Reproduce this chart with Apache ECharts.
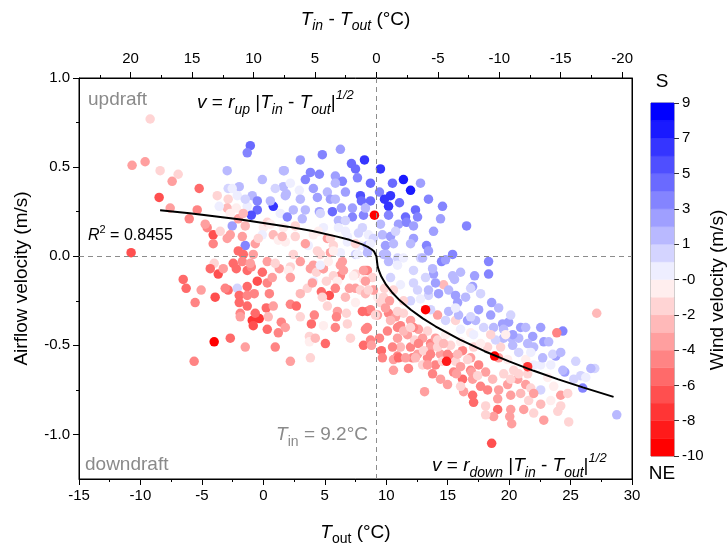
<!DOCTYPE html>
<html><head><meta charset="utf-8">
<script src="https://cdn.jsdelivr.net/npm/echarts@6/dist/echarts.min.js"></script>
<style>html,body{margin:0;padding:0;background:#fff}#c{width:728px;height:551px}</style>
</head><body><div id="c"></div><script>
// ---- data: [T_out (°C), airflow velocity (m/s), wind velocity (m/s)] ----
const upperLeftPoints = [
[-9.21,0.77,-1.7],[-10.68,0.51,-3.8],[-9.62,0.53,-3.8],[-8.4,0.48,-2.0],[-7.42,0.42,-3.8],[-6.93,0.46,-1.7],
[-8.48,0.33,-6.5],[-7.58,0.27,-3.8],[-5.22,0.38,-5.7],[-6.03,0.21,-4.7],[-5.38,0.26,-4.7],[-4.57,0.16,-4.7],
[-4.08,0.12,-6.5],[-4.08,0.07,-4.7],[-10.76,0.02,-6.5],[-3.75,0.34,-2.0],[-2.94,0.48,1.8],[-1.06,0.62,4.7],
[-1.31,0.58,3.7],[1.63,0.48,1.8],[-2.86,0.38,0.9],[-1.96,0.39,1.8],[-2.12,0.34,0.3],[-0.9,0.34,1.8],
[-2.86,0.32,-2.0],[-2.94,0.27,-2.9],[-2.2,0.27,-1.0],[-3.59,0.28,0.3],[-1.31,0.28,0.3],[-0.49,0.31,3.8],
[-0.49,0.26,4.7],[-0.98,0.23,5.7],[0.81,0.28,6.6],[0.57,0.31,1.9],[1.38,0.24,0.3],[1.79,0.34,1.8],
[1.63,0.39,1.8],[-2.53,0.17,3.0],[-1.47,0.06,3.8],[-2.04,0.21,-3.8],[-1.63,0.24,-2.9],[-2.69,0.12,-3.8],
[-2.94,0.1,-3.8],[-1.71,0.11,-3.8],[-0.66,0.07,-3.8],[-2.04,0.03,-5.7],[-1.63,0.01,-5.7],[-0.82,0.01,-3.8],
[0.0,0.16,-1.0],[0.32,0.19,-2.0],[0.81,0.12,-2.9],[-0.08,0.12,0.3],[1.22,0.09,-0.8],[1.63,0.16,-1.0]
];
const upperMidPoints = [
[7.17,0.52,4.7],[8.23,0.54,6.6],[7.5,0.49,4.7],[11.4,0.43,7.6],[11.98,0.37,7.6],[1.71,0.48,1.9],
[3.83,0.47,3.7],[4.56,0.46,3.8],[3.42,0.43,3.7],[5.86,0.45,3.0],[6.43,0.42,3.8],[5.86,0.41,1.9],
[4.07,0.38,3.0],[6.68,0.36,3.0],[5.21,0.36,1.9],[2.93,0.37,0.3],[1.87,0.35,1.8],[4.4,0.33,3.0],
[5.46,0.32,3.0],[7.9,0.34,5.7],[7.98,0.31,4.7],[8.72,0.31,4.7],[9.45,0.36,3.8],[9.86,0.32,6.6],
[10.35,0.34,6.6],[10.19,0.28,6.6],[11.08,0.3,4.7],[12.38,0.26,4.7],[14.58,0.28,3.8],[8.15,0.23,3.8],
[10.19,0.23,3.8],[11.0,0.18,3.0],[11.57,0.22,4.7],[11.65,0.19,3.8],[12.55,0.22,3.7],[12.22,0.17,3.0],
[14.42,0.21,3.0],[13.85,0.14,3.0],[12.22,0.1,3.0],[13.28,0.06,3.8],[13.44,0.03,2.8],[15.4,0.01,3.8],
[14.5,-0.03,3.8],[13.85,-0.1,3.0],[15.4,-0.11,1.9],[5.62,0.25,4.7],[6.35,0.27,3.0],[7.25,0.27,3.0],
[7.25,0.22,3.7],[6.11,0.2,1.9],[4.56,0.25,3.0],[3.42,0.26,1.9],[2.44,0.26,1.8],[1.95,0.22,3.8],
[3.17,0.21,1.8],[7.74,0.13,0.9],[8.55,0.12,0.3],[9.69,0.12,1.9],[10.35,0.11,3.0],[9.94,0.06,2.8],
[10.59,0.07,1.9],[10.02,0.01,1.9],[10.19,-0.03,1.8],[10.92,-0.01,0.9],[6.11,0.16,0.3],[6.84,0.11,0.0],
[4.89,0.16,0.3],[7.9,0.06,0.3],[4.07,0.12,-0.8],[3.66,0.06,0.0],[5.7,0.06,-2.0],[5.21,0.1,-3.8],
[4.4,0.03,-2.0],[5.46,0.02,-3.8],[6.43,-0.03,-3.8],[8.47,-0.08,-4.7],[7.5,-0.1,-2.0],[4.07,-0.05,-3.8],
[4.89,-0.07,-2.9],[2.44,0.01,-2.0],[3.01,-0.03,-3.8],[1.79,0.08,-1.0],[2.6,0.11,-2.0]
];
const blueCorePoints = [
[3.01,0.54,3.0],[4.8,0.57,3.7],[6.27,0.6,3.0],[7.66,0.44,3.8],[8.72,0.41,4.7],[9.53,0.49,6.6],
[10.51,0.41,4.7],[12.79,0.41,3.0],[13.44,0.32,3.8],[3.01,0.32,1.9],[4.64,0.24,0.9],[5.86,0.32,1.9],
[6.68,0.2,0.9],[8.31,0.27,1.9],[9.53,0.18,1.9],[10.76,0.14,0.9],[11.98,0.07,1.9],[12.79,-0.01,0.9],
[13.77,-0.07,1.9],[14.83,-0.02,3.0],[16.05,-0.09,1.9],[2.2,0.41,0.3],[0.97,0.38,0.9],[-0.08,0.43,1.9],
[-1.47,0.32,0.9],[-2.53,0.38,0.3]
];
const lowerLeftPoints = [
[-6.52,-0.13,-5.7],[-6.28,-0.18,-5.7],[-5.06,-0.19,-3.8],[-5.63,-0.59,-4.7],[-3.92,-0.23,-6.5],
[-3.67,-0.1,-6.5],[-4.0,-0.04,-1.7],[-3.26,-0.07,-3.8],[-2.45,-0.04,-5.7],[-2.2,-0.07,-5.7],[-2.86,-0.19,-5.7],
[-2.12,-0.18,0.9],[-1.31,-0.17,-5.7],[-1.96,-0.22,-5.7],[-1.96,-0.26,-5.7],[-1.31,-0.22,-4.7],[-0.74,-0.21,-4.7],
[-1.31,-0.28,-5.7],[-1.88,-0.32,-4.7],[-0.9,-0.36,-7.6],[-0.33,-0.35,-7.6],[-0.82,-0.39,-6.5],[0.32,-0.41,-5.7],
[0.24,-0.29,-5.7],[0.81,-0.28,-3.8],[1.46,-0.37,-4.7],[1.22,-0.43,-4.7],[0.49,-0.21,-4.7],[-0.49,-0.14,-6.5],
[0.32,-0.15,-4.7],[0.73,-0.12,-3.8],[-1.31,-0.08,-5.7],[-0.98,-0.06,-4.7],[-1.71,-0.03,-4.7],[0.32,-0.03,-3.8],
[1.3,-0.07,-3.8],[2.2,-0.06,-1.7],[2.2,-0.27,-4.7],[2.69,-0.28,-5.7],[2.03,-0.08,-1.0],[3.58,-0.18,-1.7],
[3.83,-0.07,-3.8],[4.32,-0.09,-1.7],[4.72,-0.2,-5.7],[5.37,-0.22,-6.5],[5.21,-0.28,-1.7],[4.15,-0.33,-4.7],
[3.91,-0.38,-5.7],[4.89,-0.39,-1.0],[3.75,-0.45,-1.7],[3.75,-0.48,-0.8],[5.05,-0.49,-5.7],[6.03,-0.31,-3.8],
[6.76,-0.32,-1.7],[6.84,-0.38,-2.0],[5.95,-0.34,-4.7],[8.47,-0.31,-5.7],[8.31,-0.41,-4.7],[8.15,-0.5,-5.7],
[8.72,-0.47,-4.7],[8.8,-0.5,-3.8],[9.29,-0.33,-3.8],[7.5,-0.18,-3.8],[7.9,-0.19,-1.7],[7.0,-0.18,-3.8],
[6.27,-0.11,-4.7],[5.7,-0.11,-2.0],[6.03,-0.14,-1.0],[5.13,-0.14,-1.7],[4.89,-0.07,-3.8],[6.52,-0.08,-3.8],
[8.31,-0.08,-4.7],[8.88,-0.12,-2.0],[8.15,-0.13,-1.0],[9.29,-0.23,-1.0],[8.96,-0.19,-1.7],[4.07,-0.14,0.3],
[6.27,0.02,0.3],[7.5,0.01,0.9],[8.47,0.02,1.8],[4.64,-0.05,0.3],[5.29,-0.03,-1.0],[7.66,0.01,0.3],
[8.47,0.06,1.8],[8.96,0.1,0.9],[6.84,0.08,0.0],[5.7,0.03,-0.8],[6.27,-0.05,-3.8],[7.33,-0.11,-1.0],[4.64,0.01,-2.0]
];
const denseLeftPoints = [
[-4.73,0.18,-3.8],[-3.51,0.14,-2.0],[-2.69,0.24,-1.0],[-1.47,0.17,-2.9],[-0.41,0.1,-2.0],[0.57,0.18,-1.0],
[1.54,0.11,-2.9],[2.6,0.17,-1.7],[3.42,0.07,-3.8],[4.48,0.14,-1.0],[5.46,0.1,-2.0],[6.68,0.14,0.3],
[7.5,0.07,-1.7],[8.06,0.16,0.9],[8.72,0.07,0.3],[-1.06,-0.04,-3.8],[-0.08,-0.09,-5.7],[0.97,-0.04,-2.0],
[2.2,-0.12,-3.8],[3.01,-0.21,-2.9],[3.99,-0.15,-3.8],[4.8,-0.23,-2.0],[5.86,-0.18,-4.7],[6.68,-0.23,-2.9],
[7.5,-0.26,-1.0],[8.31,-0.21,-2.9],[-1.88,-0.34,-3.8],[-0.66,-0.32,-5.7],[0.4,-0.34,-2.9],[1.79,-0.4,-3.8],
[3.01,-0.34,-2.0],[4.23,-0.46,-2.9],[5.86,-0.4,-4.7],[7.09,-0.46,-1.7],[-3.1,-0.18,-4.7],[-4.32,-0.07,-5.7],
[-5.55,-0.26,-4.7],[-2.69,-0.46,-5.7],[-1.47,-0.51,-3.8],[0.97,-0.51,-4.7],[2.2,-0.59,-3.8],[3.83,-0.57,-2.0]
];
const rightPoints = [
[16.54,0.17,3.8],[18.33,-0.03,3.7],[18.33,-0.1,3.8],[17.19,-0.11,3.0],[15.56,-0.13,1.9],[17.03,-0.17,2.8],
[14.67,-0.16,-2.9],[12.96,-0.01,1.9],[12.22,-0.08,0.9],[13.2,-0.12,0.9],[11.4,-0.01,0.3],[9.78,0.01,1.8],
[10.92,-0.05,0.3],[10.35,-0.12,0.9],[11.16,-0.16,0.0],[13.44,-0.22,0.9],[15.08,-0.19,1.9],[15.64,-0.22,3.0],
[18.58,-0.26,3.0],[17.52,-0.3,3.0],[18.5,-0.33,3.0],[19.96,-0.37,3.0],[19.47,-0.38,3.0],[21.92,-0.45,3.0],
[22.82,-0.48,3.0],[24.37,-0.42,3.8],[23.88,-0.43,-4.7],[27.13,-0.32,-2.9],[23.8,-0.56,3.0],[24.53,-0.65,3.0],
[25.99,-0.74,3.7],[25.83,-0.67,0.9],[26.97,-0.63,0.9],[28.76,-0.89,1.9],[20.21,-0.46,1.9],[19.55,-0.41,1.8],
[20.29,-0.5,1.8],[20.78,-0.54,0.9],[22.57,-0.61,0.0],[23.14,-0.68,-0.8],[22.57,-0.75,0.9],[23.63,-0.73,-1.0],
[24.2,-0.78,-3.8],[24.77,-0.77,-1.7],[24.85,-0.93,-2.0],[23.96,-0.87,-2.0],[22.82,-0.92,-3.8],[22.0,-0.88,-2.0],
[21.19,-0.86,-3.8],[20.21,-0.94,-3.8],[20.05,-0.9,-3.8],[19.07,-0.86,-5.7],[18.74,-0.9,-3.8],[18.09,-0.84,-2.0],
[17.11,-0.82,-5.7],[17.03,-0.78,-5.7],[18.58,-1.05,-6.5],[18.25,-0.75,-4.7],[19.15,-0.75,-3.8],[19.88,-0.72,-3.8],
[20.7,-0.69,-3.8],[21.35,-0.72,-3.8],[21.76,-0.74,-1.7],[16.3,-0.76,-3.8],[16.21,-0.69,-5.7],[15.48,-0.65,-4.7],
[13.12,-0.76,-3.8],[10.59,-0.64,-3.8],[11.81,-0.63,-4.7],[10.92,-0.56,-4.7],[11.98,-0.51,-4.7],[10.59,-0.58,-3.8],
[9.61,-0.53,-5.7],[9.45,-0.46,-4.7],[11.16,-0.39,-4.7],[13.61,-0.49,-4.7],[14.42,-0.55,-3.8],[15.32,-0.57,-4.7],
[14.01,-0.61,-4.7],[14.58,-0.59,-1.7],[15.64,-0.59,-2.0],[16.87,-0.57,-3.8],[17.52,-0.61,-4.7],[16.87,-0.64,-4.7],
[18.09,-0.65,-3.8],[16.21,-0.53,-4.7],[17.11,-0.51,-2.0],[18.25,-0.51,-2.0],[19.31,-0.51,-1.7],[19.15,-0.57,-3.8],
[19.88,-0.58,-0.8],[20.37,-0.64,-2.0],[21.51,-0.66,-1.7],[22.0,-0.61,0.3],[20.78,-0.66,-1.7],[12.3,-0.47,-2.0],
[12.63,-0.41,-3.8],[13.36,-0.42,-1.7],[14.01,-0.46,-3.8],[14.83,-0.44,-1.0],[15.24,-0.5,-1.7],[16.05,-0.48,-1.0],
[16.87,-0.43,-0.8],[16.05,-0.41,0.3],[15.64,-0.36,-1.7],[14.83,-0.36,0.9],[14.18,-0.33,-3.8],[13.61,-0.3,0.9],
[15.08,-0.31,1.9],[15.89,-0.33,1.9],[16.62,-0.36,2.8],[17.27,-0.36,1.9],[17.93,-0.4,0.9],[18.74,-0.4,1.9],
[19.55,-0.46,1.9],[18.9,-0.47,0.9],[20.78,-0.46,1.9],[21.51,-0.49,1.9],[22.0,-0.51,1.8],[20.94,-0.4,3.0],
[20.29,-0.44,2.8],[22.73,-0.57,1.8],[23.55,-0.55,0.9],[23.39,-0.61,0.3],[24.37,-0.64,1.9],[25.26,-0.69,0.9],
[11.4,-0.32,-1.7],[11.98,-0.25,0.9],[12.55,-0.19,0.9],[13.44,-0.19,1.9],[14.26,-0.21,3.0],[14.01,-0.15,3.0],
[12.79,-0.24,0.3],[12.22,-0.15,0.9],[10.59,-0.19,-1.7],[9.78,-0.23,-2.0],[8.96,-0.19,-3.8],[8.72,-0.3,-4.7],
[10.19,-0.32,-4.7],[10.76,-0.34,-3.8],[11.98,-0.36,-3.8],[12.22,-0.4,-4.7],[11.73,-0.44,-3.8],[10.1,-0.42,-4.7],
[9.69,-0.57,-4.7],[12.55,-0.55,-3.8],[13.36,-0.57,-4.7],[12.96,-0.61,-2.0],[13.77,-0.66,-4.7],[14.42,-0.69,-3.8],
[16.05,-0.73,-2.0],[14.99,-0.72,-3.8],[15.81,-0.26,3.0],[16.87,-0.18,0.9],[12.14,-0.57,-4.7],[11.0,-0.57,-5.7],
[9.86,-0.18,-1.7],[10.27,-0.25,-3.8],[10.92,-0.4,-4.7],[12.96,-0.46,-3.8],[14.18,-0.47,-2.0],[13.61,-0.51,-3.8],
[17.68,-0.49,-1.0],[18.5,-0.44,-1.7],[17.11,-0.44,0.0],[19.72,-0.44,-1.0],[15.72,-0.66,-3.8],[16.95,-0.65,-3.8],
[19.07,-0.8,-3.8],[20.13,-0.78,-3.8],[20.13,-0.86,-3.8],[18.09,-0.89,-2.0],[21.35,-0.58,-1.0]
];
const blueBandPoints = [
[16.46,-0.23,1.9],[17.68,-0.21,0.9],[19.15,-0.29,1.9],[20.13,-0.33,0.9],[21.35,-0.4,1.9],[22.57,-0.4,3.0],
[23.22,-0.48,1.9],[21.76,-0.54,0.3],[24.2,-0.54,1.9],[25.42,-0.59,0.9],[26.24,-0.68,0.3],[26.65,-0.63,1.9],
[15.64,-0.29,0.3],[16.87,-0.34,0.9]
];
const curveBandPoints = [
[8.15,-0.08,-3.8],[8.31,-0.14,-3.8],[8.55,-0.19,-2.0],[8.06,-0.31,-5.7],[8.47,-0.4,-4.7],[9.12,-0.33,-2.0],
[9.53,-0.26,-1.7],[9.94,-0.29,-3.8],[10.35,-0.36,-2.9],[10.92,-0.31,-1.7],[11.41,-0.25,-2.0],[10.92,-0.46,-3.8],
[11.41,-0.42,-2.9],[11.98,-0.4,-1.7],[12.63,-0.49,-4.7],[11.16,-0.51,-2.9],[11.57,-0.57,-3.8],[10.51,-0.51,-4.7],
[12.38,-0.57,-2.9],[13.04,-0.53,-2.0],[13.61,-0.55,-4.7],[13.36,-0.61,-3.8],[14.18,-0.51,-1.7],[14.67,-0.49,-2.9],
[14.99,-0.55,-4.7],[15.81,-0.55,-2.9],[16.05,-0.62,-3.8],[16.62,-0.58,-1.7],[17.03,-0.69,-3.8],[17.44,-0.67,-2.0],
[17.68,-0.73,-4.7],[18.66,-0.69,-2.9],[19.56,-0.66,-1.7],[20.13,-0.69,-2.0],[20.94,-0.77,-2.9],[21.59,-0.81,-1.7],
[22.57,-0.83,-2.9],[23.39,-0.81,-1.0],[24.2,-0.84,-2.0],[22.0,-0.77,-3.8]
];
const strongNEPoints = [
[9.04,0.23,-9.5],[-4.0,-0.48,-9.5],[13.2,-0.3,-9.5],[14.91,-0.59,-8.6],[18.82,-0.56,-9.5],[21.51,-0.62,-7.6]
];
// fitted curve
const curveTout = [-8.4,-6,-4,-2,0,2,4,6,7,8,8.5,8.8,9.0,9.1,9.2,9.3,9.4,9.6,10,10.5,11,12,13,14,16,18,20,22,24,26,28.5];
const curveV = [0.258,0.241,0.224,0.207,0.187,0.166,0.141,0.110,0.092,0.068,0.052,0.039,0.028,0.020,0,-0.057,-0.080,-0.114,-0.161,-0.205,-0.241,-0.300,-0.350,-0.393,-0.468,-0.533,-0.590,-0.643,-0.691,-0.736,-0.789];
const T_IN = 9.2;
// axis ticks
const topTicks = [-20,-15,-10,-5,0,5,10,15,20];
const topMinorTicks = [-17.5,-12.5,-7.5,-2.5,2.5,7.5,12.5,17.5,22.5];
const yTicks = [-1,-0.5,0,0.5,1];
const yMinorTicks = [-0.75,-0.25,0.25,0.75];
// colour bar
const cbBounds = [-10,-9.05,-8.1,-7.15,-6.2,-5.25,-4.3,-3.35,-2.4,-1.45,-0.5,0.45,1.4,2.35,3.3,4.25,5.2,6.15,7.1,8.05,9];
const cbColors = ['#ff0000','#ff1a1a','#ff3535','#ff4f4f','#ff6a6a','#ff8484','#ff9f9f','#ffb9b9','#ffd4d4','#ffeeee',
                  '#eeeeff','#d4d4ff','#b9b9ff','#9f9fff','#8484ff','#6a6aff','#4f4fff','#3535ff','#1a1aff','#0000ff'];
const cbTickValues = [9,7.1,5.2,3.3,1.4,-0.5,-2.4,-4.3,-6.2,-8.1,-10];
const cbTickLabels = ['9','7','5','3','1','-0','-2','-4','-6','-8','-10'];

const FONT = '"Liberation Sans", Arial, sans-serif';
const chart = echarts.init(document.getElementById('c'), null, {renderer:'canvas'});
const allPoints = upperLeftPoints.concat(upperMidPoints, blueCorePoints, lowerLeftPoints, denseLeftPoints,
  rightPoints, blueBandPoints, curveBandPoints, strongNEPoints);
const curve = curveTout.map((t,i)=>[t, curveV[i]]);
const black = '#000';
const lineBlack = {lineStyle:{color:black, width:1}};

const richT = {
  i:{fontStyle:'italic', fontSize:19, color:black, fontFamily:FONT},
  si:{fontStyle:'italic', fontSize:14, color:black, verticalAlign:'bottom', fontFamily:FONT},
  s:{fontSize:14, color:black, verticalAlign:'bottom', fontFamily:FONT},
  n:{fontSize:19, color:black, fontFamily:FONT}
};
const eqRich = {
  i:{fontStyle:'italic', fontSize:19, fill:black, lineHeight:28, fontFamily:FONT},
  n:{fontSize:19, fill:black, lineHeight:28, fontFamily:FONT},
  si:{fontStyle:'italic', fontSize:14, fill:black, verticalAlign:'bottom', fontFamily:FONT},
  sup:{fontStyle:'italic', fontSize:13, fill:black, verticalAlign:'top', fontFamily:FONT}
};

const option = {
  animation:false,
  backgroundColor:'#fff',
  textStyle:{fontFamily:FONT},
  grid:[
    {left:79, top:78, width:553, height:406, show:true, borderColor:black, borderWidth:1, backgroundColor:'transparent'},
    {left:651, top:103, width:23, height:353, show:true, borderColor:'#333', borderWidth:0.6, backgroundColor:'transparent'}
  ],
  xAxis:[
    {gridIndex:0, type:'value', position:'bottom', min:-15, max:30, interval:5,
     axisLine:{onZero:false, ...lineBlack}, axisTick:{length:6, ...lineBlack},
     minorTick:{show:true, splitNumber:2, length:3, ...lineBlack}, splitLine:{show:false},
     axisLabel:{color:black, fontSize:15, margin:9, fontFamily:FONT},
     name:'{i|T}{s|out}{n| (°C)}', nameLocation:'middle', nameGap:41,
     nameTextStyle:{rich:richT, lineHeight:26}},
    {gridIndex:0, type:'value', position:'top', inverse:true, min:-20.8, max:24.2,
     axisLine:{onZero:false, ...lineBlack}, axisTick:{customValues:topTicks, length:6, ...lineBlack},
     splitLine:{show:false},
     axisLabel:{customValues:topTicks, color:black, fontSize:15, margin:12, fontFamily:FONT},
     name:'{i|T}{si|in}{n| - }{i|T}{si|out}{n| (°C)}', nameLocation:'middle', nameGap:45,
     nameTextStyle:{rich:richT, lineHeight:26}},
    {gridIndex:0, type:'value', position:'top', inverse:true, min:-20.8, max:24.2,
     axisLine:{show:false, onZero:false}, axisTick:{customValues:topMinorTicks, length:3, ...lineBlack},
     axisLabel:{show:false}, splitLine:{show:false}},
    {gridIndex:1, type:'value', min:0, max:1, show:false}
  ],
  yAxis:[
    {gridIndex:0, type:'value', position:'left', min:-1.25, max:1,
     axisLine:{onZero:false, ...lineBlack}, axisTick:{customValues:yTicks, length:6, ...lineBlack},
     splitLine:{show:false},
     axisLabel:{customValues:yTicks, color:black, fontSize:15, margin:9, fontFamily:FONT, formatter:v=>v.toFixed(1)},
     name:'Airflow velocity (m/s)', nameLocation:'middle', nameGap:48, nameRotate:90,
     nameTextStyle:{color:black, fontSize:19, fontFamily:FONT}},
    {gridIndex:0, type:'value', position:'left', min:-1.25, max:1,
     axisLine:{show:false, onZero:false}, axisTick:{customValues:yMinorTicks, length:3, ...lineBlack},
     axisLabel:{show:false}, splitLine:{show:false}},
    {gridIndex:0, type:'value', position:'right', min:-1.25, max:1,
     axisLine:{show:true, onZero:false, ...lineBlack}, axisTick:{show:false}, axisLabel:{show:false}, splitLine:{show:false}},
    {gridIndex:1, type:'value', position:'right', min:-10, max:9,
     axisLine:{show:false, onZero:false}, axisTick:{customValues:cbTickValues, length:5, lineStyle:{color:'#333', width:1}},
     splitLine:{show:false},
     axisLabel:{customValues:cbTickValues, color:black, fontSize:15, margin:8, fontFamily:FONT,
       formatter:v=>{let b=0;for(let k=1;k<cbTickValues.length;k++){if(Math.abs(cbTickValues[k]-v)<Math.abs(cbTickValues[b]-v))b=k;}return cbTickLabels[b];}}}
  ],
  visualMap:[{
    type:'piecewise', show:false, seriesIndex:0, dimension:2,
    pieces: cbColors.map((c,i)=>({gte:cbBounds[i], lt:cbBounds[i+1] + (i===cbColors.length-1?0.001:0), color:c}))
  }],
  series:[
    {type:'scatter', xAxisIndex:0, yAxisIndex:0, data:allPoints, symbolSize:9.5,
     itemStyle:{opacity:1}, z:2,
     markLine:{silent:true, symbol:['none','none'], label:{show:false},
       lineStyle:{type:[5,4], color:'#8c8c8c', width:1},
       data:[{xAxis:T_IN},{yAxis:0}]}},
    {type:'line', xAxisIndex:0, yAxisIndex:0, data:curve, symbol:'none', smooth:false,
     lineStyle:{color:black, width:2}, z:5},
    {type:'custom', xAxisIndex:3, yAxisIndex:3, coordinateSystem:'cartesian2d',
     data: cbColors.map((c,i)=>[cbBounds[i], cbBounds[i+1], i]),
     encode:{x:0, y:1},
     renderItem:(params, api)=>{
       const lo=api.value(0), hi=api.value(1), idx=api.value(2);
       const p1=api.coord([0,hi]), p2=api.coord([1,lo]);
       return {type:'rect', shape:{x:p1[0], y:p1[1], width:p2[0]-p1[0], height:p2[1]-p1[1]},
               style:{fill:cbColors[idx], stroke:cbColors[idx], lineWidth:0.5}};
     }}
  ],
  graphic:[
    {type:'text', x:88, y:100, style:{text:'updraft', fill:'#8a8a8a', font:'19px '+FONT, verticalAlign:'middle'}},
    {type:'text', x:85, y:465, style:{text:'downdraft', fill:'#8a8a8a', font:'19px '+FONT, verticalAlign:'middle'}},
    {type:'text', x:197, y:103, style:{
      text:'{i|v}{n| = }{i|r}{si|up}{n| |}{i|T}{si|in}{n| - }{i|T}{si|out}{n||}{sup|1/2}',
      verticalAlign:'middle', font:'19px '+FONT, rich:eqRich}},
    {type:'text', x:432, y:466, style:{
      text:'{i|v}{n| = }{i|r}{si|down}{n| |}{i|T}{si|in}{n| - }{i|T}{si|out}{n||}{sup|1/2}',
      verticalAlign:'middle', font:'19px '+FONT, rich:eqRich}},
    {type:'text', x:88, y:236, style:{
      text:'{i|R}{sup|2}{n| = 0.8455}', verticalAlign:'middle', font:'16px '+FONT,
      rich:{
        i:{fontStyle:'italic', fontSize:16, fill:black, lineHeight:24, fontFamily:FONT},
        n:{fontSize:16, fill:black, lineHeight:24, fontFamily:FONT},
        sup:{fontSize:11, fill:black, verticalAlign:'top', fontFamily:FONT}
      }}},
    {type:'text', x:368, y:435, style:{
      text:'{i|T}{s|in}{n| = 9.2°C}', align:'right', verticalAlign:'middle', font:'19px '+FONT,
      rich:{
        i:{fontStyle:'italic', fontSize:19, fill:'#8a8a8a', lineHeight:28, fontFamily:FONT},
        n:{fontSize:19, fill:'#8a8a8a', lineHeight:28, fontFamily:FONT},
        s:{fontSize:14, fill:'#8a8a8a', verticalAlign:'bottom', fontFamily:FONT}
      }}},
    {type:'text', x:662, y:82, style:{text:'S', fill:black, font:'19px '+FONT, align:'center', verticalAlign:'middle'}},
    {type:'text', x:662, y:474, style:{text:'NE', fill:black, font:'19px '+FONT, align:'center', verticalAlign:'middle'}},
    {type:'text', x:718, y:290, rotation:Math.PI/2, style:{text:'Wind velocity (m/s)', fill:black, font:'19px '+FONT, align:'center', verticalAlign:'middle'}}
  ]
};
chart.setOption(option);
</script></body></html>
